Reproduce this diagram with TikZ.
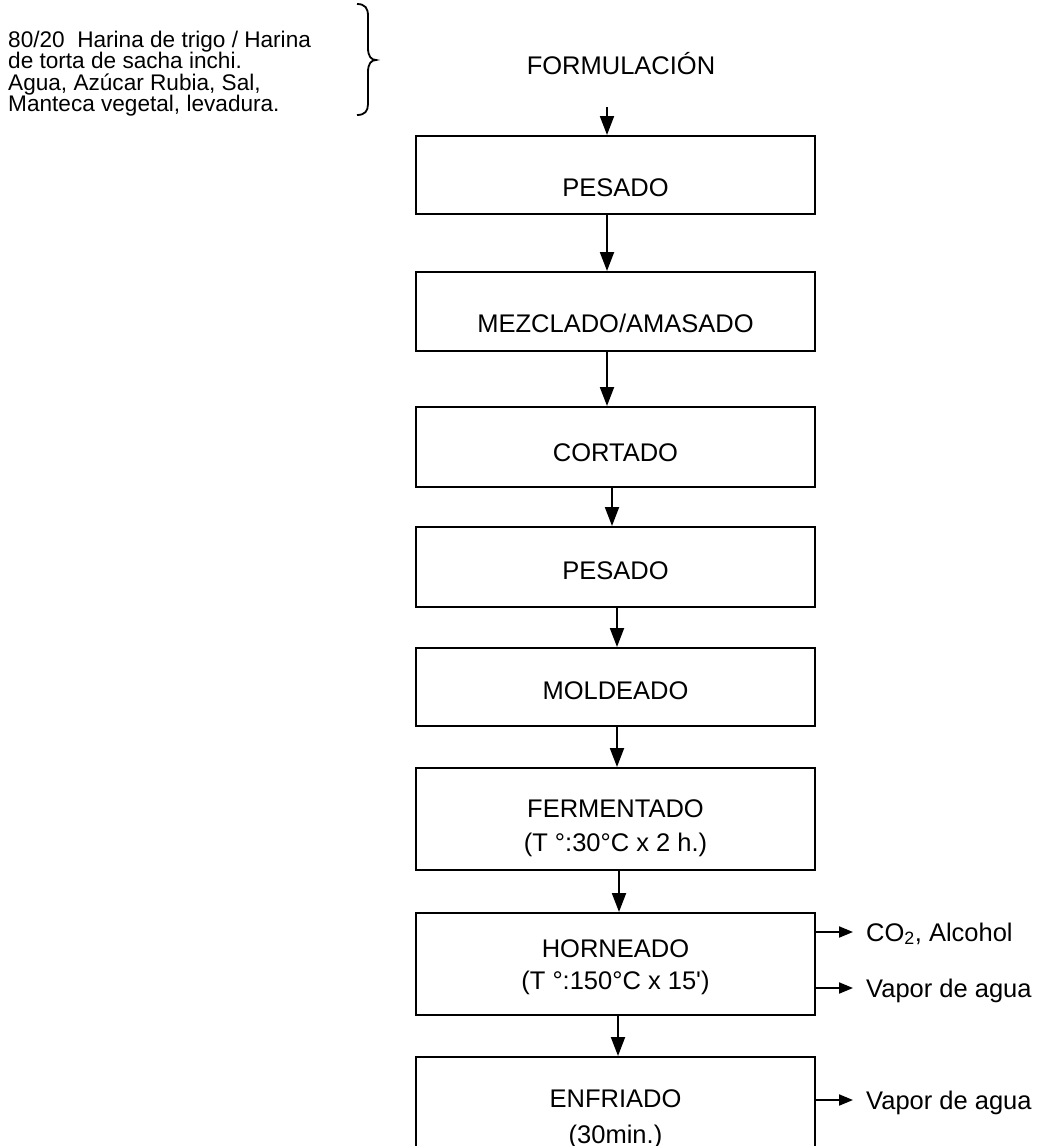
\documentclass[tikz,border=0pt]{standalone}
\usepackage{fontspec}
\setmainfont{Liberation Sans}
\usetikzlibrary{arrows.meta}
\begin{document}
\begin{tikzpicture}[x=1pt,y=-1pt,
  box/.style={draw, line width=2pt, minimum width=399pt, inner sep=0pt},
  lbl/.style={anchor=base, inner sep=0pt, font=\fontsize{25.5}{30}\selectfont},
  side/.style={anchor=base west, inner sep=0pt, font=\fontsize{25.5}{30}\selectfont},
  note/.style={anchor=base west, inner sep=0pt, font=\fontsize{22.6}{26}\selectfont},
  arr/.style={line width=2pt, -{Triangle[length=19pt,width=14pt]}},
  sarr/.style={line width=2pt, -{Triangle[length=14pt,width=11pt]}}]
\useasboundingbox (0,0) rectangle (1056,1146);
\clip (0,0) rectangle (1056,1146);

% ingredient note
\node[note] (n1) at (8,47) {80/20\ \ Harina de trigo / Harina};
\node[note] (n2) at (8,68) {de torta de sacha inchi.};
\node[note] (n3) at (8,90) {Agua, Azúcar Rubia, Sal,};
\node[note] (n4) at (8,111) {Manteca vegetal, levadura.};

% brace
\draw[line width=1.8pt] (357,4) .. controls (365,4) and (368,8) .. (368,16)
  -- (368,48) .. controls (368,56) and (371,60) .. (376,60)
  .. controls (371,60) and (368,64) .. (368,72)
  -- (368,104) .. controls (368,111) and (365,115) .. (357,115);

% title
\node[lbl] (f) at (621,74) {FORMULACIÓN};
\coordinate (fa) at (607,107);

% boxes
\node[box, minimum height=78pt]  (b1) at (615.5,175) {};
\node[box, minimum height=79pt]  (b2) at (615.5,311.5) {};
\node[box, minimum height=80pt]  (b3) at (615.5,447) {};
\node[box, minimum height=80pt]  (b4) at (615.5,567) {};
\node[box, minimum height=78pt]  (b5) at (615.5,687) {};
\node[box, minimum height=102pt] (b6) at (615.5,819) {};
\node[box, minimum height=102pt] (b7) at (615.5,964) {};
\node[box, minimum height=163pt] (b8) at (615.5,1138.5) {};

% box texts
\node[lbl] (t1) at (615.5,196) {PESADO};
\node[lbl] (t2) at (615.5,332) {MEZCLADO/AMASADO};
\node[lbl] (t3) at (615.5,461) {CORTADO};
\node[lbl] (t4) at (615.5,579) {PESADO};
\node[lbl] (t5) at (615.5,699) {MOLDEADO};
\node[lbl] (t6a) at (615.5,817) {FERMENTADO};
\node[lbl] (t6b) at (615.5,851) {(T °:30°C x 2 h.)};
\node[lbl] (t7a) at (615.5,957) {HORNEADO};
\node[lbl] (t7b) at (615.5,989) {(T °:150°C x 15\textquotesingle)};
\node[lbl] (t8a) at (615.5,1107) {ENFRIADO};
\node[lbl] (t8b) at (615.5,1143) {(30min.)};

% main arrows
\draw[arr] (fa) -- (b1.north -| fa);
\draw[arr] ([xshift=-8.5pt]b1.south) -- ([xshift=-8.5pt]b2.north);
\draw[arr] ([xshift=-8.5pt]b2.south) -- ([xshift=-8.5pt]b3.north);
\draw[arr] ([xshift=-3.5pt]b3.south) -- ([xshift=-3.5pt]b4.north);
\draw[arr] ([xshift=1.5pt]b4.south) -- ([xshift=1.5pt]b5.north);
\draw[arr] ([xshift=1.5pt]b5.south) -- ([xshift=1.5pt]b6.north);
\draw[arr] ([xshift=3.5pt]b6.south) -- ([xshift=3.5pt]b7.north);
\draw[arr] ([xshift=2.5pt]b7.south) -- ([xshift=2.5pt]b8.north);

% side outputs
\coordinate (e1) at (853,932);
\coordinate (e2) at (853,988);
\coordinate (e3) at (853,1100);
\node[side] (s1) at (866,941) {CO\textsubscript{2}, Alcohol};
\node[side] (s2) at (866,997) {Vapor de agua};
\node[side] (s3) at (866,1109) {Vapor de agua};
\draw[sarr] (b7.east |- e1) -- (e1);
\draw[sarr] (b7.east |- e2) -- (e2);
\draw[sarr] (b8.east |- e3) -- (e3);
\end{tikzpicture}
\end{document}
